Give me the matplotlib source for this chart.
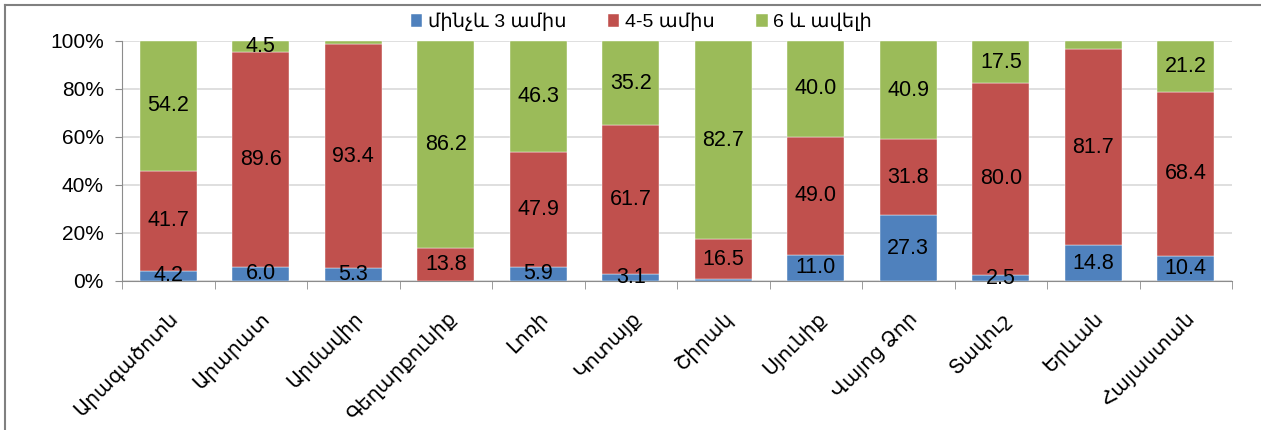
import numpy as np
import matplotlib.pyplot as plt
from matplotlib.lines import Line2D
from matplotlib.ticker import FixedLocator, PercentFormatter

plt.rcParams['font.family'] = ['Liberation Sans', 'DejaVu Sans']

# data
regions = ['Արագածոտն', 'Արարատ', 'Արմավիր', 'Գեղարքունիք', 'Լոռի', 'Կոտայք',
           'Շիրակ', 'Սյունիք', 'Վայոց Ձոր', 'Տավուշ', 'Երևան', 'Հայաստան']
series_names = ['մինչև 3 ամիս', '4-5 ամիս', '6 և ավելի']
upto3 = [4.2, 6.0, 5.3, 0.0, 5.9, 3.1, 0.8, 11.0, 27.3, 2.5, 14.8, 10.4]
m4_5 = [41.7, 89.6, 93.4, 13.8, 47.9, 61.7, 16.5, 49.0, 31.8, 80.0, 81.7, 68.4]
m6plus = [54.2, 4.5, 1.3, 86.2, 46.3, 35.2, 82.7, 40.0, 40.9, 17.5, 3.5, 21.2]
# segments whose value label is not printed on the original chart
hidden = {(0, 3), (0, 6), (2, 2), (2, 10)}
colors = ['#4F81BD', '#C0504D', '#9BBB59']

fig = plt.figure(figsize=(12.61, 4.30), dpi=100)
ax = fig.add_axes([122 / 1261, 1 - 281 / 430, 1110 / 1261, 240 / 430])

x = np.arange(len(regions))
bottom = np.zeros(len(regions))
for si, (vals, name, col) in enumerate(zip([upto3, m4_5, m6plus], series_names, colors)):
    vals = np.array(vals)
    ax.bar(x, vals, 0.62, bottom=bottom, color=col, label=name,
           edgecolor='white', linewidth=0.3, zorder=3)
    for xi, b, v in zip(x, bottom, vals):
        if (si, xi) not in hidden:
            ax.text(xi, b + v / 2, f'{v:.1f}', ha='center', va='center',
                    fontsize=15.5, color='black', zorder=4)
    bottom += vals

ax.set_xlim(-0.5, len(regions) - 0.5)
ax.set_ylim(0, 100)
ax.yaxis.set_major_locator(FixedLocator([0, 20, 40, 60, 80, 100]))
ax.yaxis.set_major_formatter(PercentFormatter(decimals=0))
ax.grid(axis='y', color='#d9d9d9', linewidth=1.2, zorder=0)
for s in ['top', 'right']:
    ax.spines[s].set_visible(False)
ax.spines['left'].set_color('#8c8c8c')
ax.spines['bottom'].set_color('#8c8c8c')
ax.tick_params(axis='y', length=5, color='#8c8c8c', labelsize=15, pad=8)

ax.set_xticks(x)
ax.set_xticklabels(regions, rotation=45, ha='right', va='top',
                   rotation_mode='anchor', fontsize=14.5)
ax.tick_params(axis='x', length=0, pad=20)
ax.set_xticks(np.arange(len(regions) + 1) - 0.5, minor=True)
ax.tick_params(axis='x', which='minor', length=6, color='#8c8c8c')

ax.legend(loc='upper center', bbox_to_anchor=(0.468, 1.19), ncol=3, frameon=False,
          fontsize=14, handlelength=0.6, handleheight=0.6, handletextpad=0.3,
          columnspacing=2.1)

# outer frame (top and left edges)
fig.add_artist(Line2D([5 / 1261, 1], [1 - 5 / 430, 1 - 5 / 430], color='#808080', lw=1.5))
fig.add_artist(Line2D([5 / 1261, 5 / 1261], [0, 1 - 5 / 430], color='#808080', lw=1.5))

fig.savefig('out.png', dpi=100)
